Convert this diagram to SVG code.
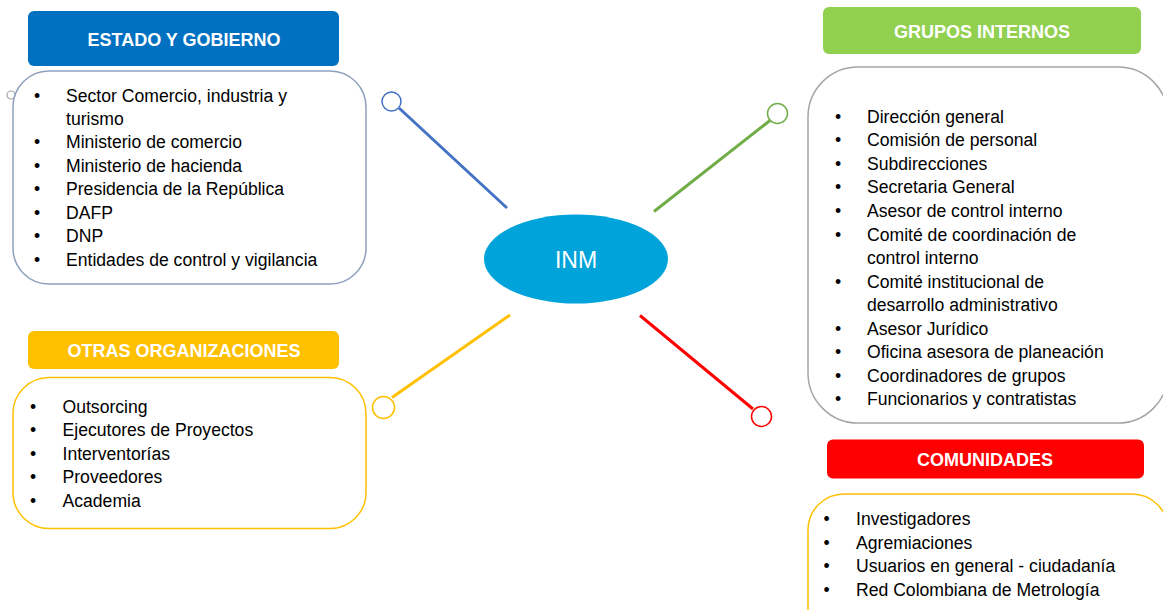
<svg xmlns="http://www.w3.org/2000/svg" width="1163" height="610" viewBox="0 0 1163 610">
<style>
.hdr{font-family:"Liberation Sans",Arial,sans-serif;font-weight:bold;font-size:18px;fill:#ffffff;text-anchor:middle}
.li{font-family:"Liberation Sans",Arial,sans-serif;font-size:17.6px;fill:#000000}
.box{fill:#ffffff;stroke-width:1.5}
.con{stroke-width:3;fill:none}
.knob{fill:#ffffff;stroke-width:1.5}
</style>
<rect width="1163" height="610" fill="#ffffff"/>
<g id="connectors">
<line class="con" x1="399" y1="108" x2="507" y2="208" stroke="#4472C4"/>
<circle class="knob" cx="391.5" cy="101.5" r="9.5" stroke="#4472C4"/>
<line class="con" x1="770" y1="120.5" x2="654" y2="211.5" stroke="#70AD47"/>
<circle class="knob" cx="777.5" cy="113.5" r="10" stroke="#70AD47"/>
<line class="con" x1="392" y1="397.5" x2="510" y2="315" stroke="#FFC000"/>
<circle class="knob" cx="383.5" cy="407.5" r="11" stroke="#FFC000"/>
<line class="con" x1="753" y1="409" x2="640" y2="315.5" stroke="#FF0000"/>
<circle class="knob" cx="761.5" cy="416.5" r="10" stroke="#FF0000"/>
</g>
<g id="inm">
<ellipse cx="576" cy="259" rx="92" ry="44.5" fill="#00A3DA"/>
<text x="576" y="268" font-family="Liberation Sans, Arial, sans-serif" font-size="23" fill="#ffffff" text-anchor="middle">INM</text>
</g>
<g id="estado">
<circle cx="11" cy="95" r="4" fill="none" stroke="#A6A6A6" stroke-width="1.2"/>
<rect x="28" y="11" width="311" height="55" rx="6" fill="#0070C0"/>
<text class="hdr" x="184" y="46">ESTADO Y GOBIERNO</text>
<rect class="box" x="13" y="71" width="353" height="213" rx="36" stroke="#8EA0BE"/>
<g class="li">
<text x="34" y="101.7">•</text><text x="66" y="101.7">Sector Comercio, industria y</text>
<text x="66" y="125">turismo</text>
<text x="34" y="148.4">•</text><text x="66" y="148.4">Ministerio de comercio</text>
<text x="34" y="171.8">•</text><text x="66" y="171.8">Ministerio de hacienda</text>
<text x="34" y="195.2">•</text><text x="66" y="195.2">Presidencia de la República</text>
<text x="34" y="218.6">•</text><text x="66" y="218.6">DAFP</text>
<text x="34" y="242">•</text><text x="66" y="242">DNP</text>
<text x="34" y="266">•</text><text x="66" y="266">Entidades de control y vigilancia</text>
</g>
</g>
<g id="grupos">
<rect x="823" y="7" width="318" height="47" rx="6" fill="#92D050"/>
<text class="hdr" x="982" y="38">GRUPOS INTERNOS</text>
<rect class="box" x="808" y="67" width="360" height="356" rx="50" stroke="#A6A6A6"/>
<g class="li">
<text x="835" y="122.7">•</text><text x="867" y="122.7">Dirección general</text>
<text x="835" y="146.2">•</text><text x="867" y="146.2">Comisión de personal</text>
<text x="835" y="169.8">•</text><text x="867" y="169.8">Subdirecciones</text>
<text x="835" y="193.4">•</text><text x="867" y="193.4">Secretaria General</text>
<text x="835" y="216.9">•</text><text x="867" y="216.9">Asesor de control interno</text>
<text x="835" y="240.5">•</text><text x="867" y="240.5">Comité de coordinación de</text>
<text x="867" y="264">control interno</text>
<text x="835" y="287.6">•</text><text x="867" y="287.6">Comité institucional de</text>
<text x="867" y="311.2">desarrollo administrativo</text>
<text x="835" y="334.7">•</text><text x="867" y="334.7">Asesor Jurídico</text>
<text x="835" y="358.3">•</text><text x="867" y="358.3">Oficina asesora de planeación</text>
<text x="835" y="381.9">•</text><text x="867" y="381.9">Coordinadores de grupos</text>
<text x="835" y="405.4">•</text><text x="867" y="405.4">Funcionarios y contratistas</text>
</g>
</g>
<g id="otras">
<rect x="28" y="331" width="311" height="38" rx="6" fill="#FFC000"/>
<text class="hdr" x="184" y="357">OTRAS ORGANIZACIONES</text>
<rect class="box" x="13" y="377.5" width="353" height="151" rx="36" stroke="#FFC000"/>
<g class="li">
<text x="30" y="412.7">•</text><text x="62.5" y="412.7">Outsorcing</text>
<text x="30" y="436.2">•</text><text x="62.5" y="436.2">Ejecutores de Proyectos</text>
<text x="30" y="459.7">•</text><text x="62.5" y="459.7">Interventorías</text>
<text x="30" y="483.2">•</text><text x="62.5" y="483.2">Proveedores</text>
<text x="30" y="506.7">•</text><text x="62.5" y="506.7">Academia</text>
</g>
</g>
<g id="comunidades">
<rect x="827" y="439.5" width="317" height="39" rx="6" fill="#FF0000"/>
<text class="hdr" x="985" y="466">COMUNIDADES</text>
<rect class="box" x="808" y="494" width="360" height="150" rx="36" stroke="#FFC000"/>
<g class="li">
<text x="823.5" y="525">•</text><text x="856" y="525">Investigadores</text>
<text x="823.5" y="548.5">•</text><text x="856" y="548.5">Agremiaciones</text>
<text x="823.5" y="572">•</text><text x="856" y="572">Usuarios en general - ciudadanía</text>
<text x="823.5" y="595.7">•</text><text x="856" y="595.7">Red Colombiana de Metrología</text>
</g>
</g>
</svg>
